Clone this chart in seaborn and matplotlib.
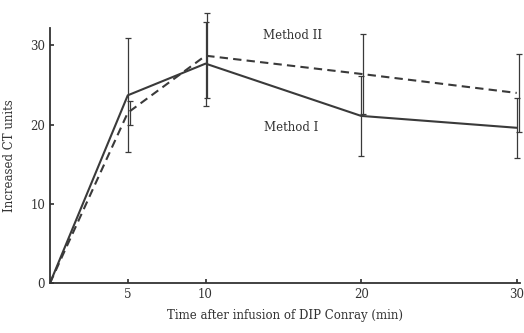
import matplotlib
matplotlib.use("Agg")
import matplotlib.pyplot as plt
import seaborn as sns
import pandas as pd

time = [0, 5, 10, 20, 30]
method1 = [0, 23.7, 27.7, 21.1, 19.6]
method1_sd = [0, 7.2, 5.3, 5.0, 3.8]
method2 = [0, 21.5, 28.7, 26.4, 24.0]
method2_sd = [0, 1.5, 5.4, 5.0, 4.9]
xticks = [5, 10, 20, 30]
yticks = [0, 10, 20, 30]

sns.set_theme(style="ticks")
plt.rcParams['font.family'] = ['DejaVu Serif']

df = pd.DataFrame({
    "time": time * 2,
    "value": method1 + method2,
    "method": ["Method I"] * len(time) + ["Method II"] * len(time),
})

fig = plt.figure(figsize=(5.24, 3.33), dpi=100)
ax = fig.add_axes([0.0954, 0.150, 0.8966, 0.766])
col = "#3a3a3a"
sns.lineplot(data=df, x="time", y="value", style="method",
             dashes={"Method I": "", "Method II": (4, 2.5)},
             color=col, linewidth=1.5, legend=False, ax=ax)

for xs, ys, es in [(time[1:], method1[1:], method1_sd[1:]),
                   ([t + 0.12 for t in time[1:]], method2[1:], method2_sd[1:])]:
    eb = ax.errorbar(xs, ys, yerr=es, fmt="none",
                     ecolor=col, elinewidth=0.9, capsize=2.5, capthick=0.9)
    for art in eb.lines[1] + eb.lines[2]:
        art.set_clip_on(False)

ax.set_xlim(0, 30.2)
ax.set_ylim(0, 32.2)
ax.set_xticks(xticks)
ax.set_yticks(yticks)
ax.tick_params(direction="in", length=3, labelsize=8.5, colors="#333333")
sns.despine(ax=ax)
for s in ["left", "bottom"]:
    ax.spines[s].set_color("#333333")
    ax.spines[s].set_linewidth(1.3)

ax.text(15.6, 31.2, "Method II", ha="center", va="center", fontsize=8.5, color="#333333")
ax.text(15.5, 19.6, "Method I", ha="center", va="center", fontsize=8.5, color="#333333")

ax.set_xlabel("Time after infusion of DIP Conray (min)", fontsize=8.5, color="#333333", labelpad=6)
ax.set_ylabel("Increased CT units", fontsize=8.5, color="#333333", labelpad=10)

fig.savefig("out.png", dpi=100)
